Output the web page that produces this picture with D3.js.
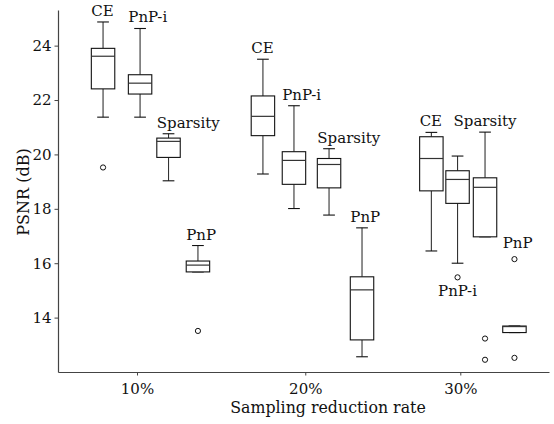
<!DOCTYPE html>
<html>
<head>
<meta charset="utf-8">
<script src="https://cdn.jsdelivr.net/npm/d3@7"></script>
<style>
  html, body { margin: 0; padding: 0; background: #fff; }
  svg { display: block; font-family: "DejaVu Serif", serif; }
</style>
</head>
<body>
<svg id="chart" width="554" height="424"></svg>
<script>
// categories
const rates = ["10%", "20%", "30%"];
const ratePos = [1, 2.041, 3];
const methods = ["CE", "PnP-i", "Sparsity", "PnP",
                 "CE", "PnP-i", "Sparsity", "PnP",
                 "CE", "PnP-i", "Sparsity", "PnP"];
// where each box sits along the x axis
const boxPos = [0.79, 1.019, 1.195, 1.377,
                1.779, 1.971, 2.188, 2.392,
                2.821, 2.983, 3.153, 3.335];

// box statistics (PSNR, dB)
const whiskerLow = [21.37, 21.37, 19.03, 15.68, 19.28, 18.01, 17.77, 12.56, 16.45, 16.00, 16.97, 13.45];
const q1         = [22.41, 22.22, 19.89, 15.68, 20.69, 18.90, 18.77, 13.18, 18.66, 18.20, 16.97, 13.45];
const median     = [23.61, 22.62, 20.48, 15.93, 21.40, 19.78, 19.63, 15.02, 19.85, 19.08, 18.79, 13.67];
const q3         = [23.90, 22.93, 20.60, 16.08, 22.15, 20.10, 19.85, 15.50, 20.65, 19.40, 19.14, 13.69];
const whiskerHigh= [24.87, 24.63, 20.76, 16.65, 23.50, 21.79, 20.21, 17.30, 20.81, 19.94, 20.82, 13.69];
const outliers   = [[19.52], [], [], [13.51],
                    [], [], [], [],
                    [], [15.48], [13.23, 12.45], [16.15, 12.52]];

// label placement: text anchor and side of the box
const labelAnchor = ["start", "start", "start", "start",
                     "start", "start", "start", "start",
                     "start", "middle", "middle", "start"];
const labelSide = ["top", "top", "top", "top",
                   "top", "top", "top", "top",
                   "top", "bottom", "top", "top"];

const yTicks = [14, 16, 18, 20, 22, 24];

const svg = d3.select("#chart");
const mLeft = 58, mRight = 549, mTop = 10, mBottom = 372;

const x = d3.scaleLinear()
  .domain([1 - (137 - mLeft) / 161.65, 1 + (mRight - 137) / 161.65])
  .range([mLeft, mRight]);
const y = d3.scaleLinear().domain([12, 25.31]).range([mBottom, mTop]);

const boxW = x(1.145) - x(1);

const boxes = methods.map((m, i) => ({
  name: m, pos: boxPos[i],
  lo: whiskerLow[i], q1: q1[i], med: median[i], q3: q3[i], hi: whiskerHigh[i],
  out: outliers[i], anchor: labelAnchor[i], side: labelSide[i]
}));

// axes
const yAxis = svg.append("g")
  .attr("transform", `translate(${mLeft},0)`)
  .call(d3.axisLeft(y).tickValues(yTicks).tickSize(3.5).tickSizeOuter(0).tickPadding(3));

const xAxis = svg.append("g")
  .attr("transform", `translate(0,${mBottom})`)
  .call(d3.axisBottom(x).tickValues(ratePos)
    .tickFormat((d, i) => rates[i]).tickSize(3.5).tickSizeOuter(0).tickPadding(8));

[yAxis, xAxis].forEach(g => {
  g.select(".domain").attr("stroke", "#444").attr("stroke-width", 1.2);
  g.selectAll(".tick line").attr("stroke", "#444");
  g.selectAll(".tick text")
    .attr("fill", "#111")
    .style("font-family", "DejaVu Serif, serif")
    .style("font-size", "15px");
});

// axis titles
svg.append("text")
  .attr("x", 328).attr("y", 413)
  .attr("text-anchor", "middle")
  .attr("fill", "#111")
  .style("font-size", "15.8px")
  .text("Sampling reduction rate");

svg.append("text")
  .attr("transform", "translate(29,192) rotate(-90)")
  .attr("text-anchor", "middle")
  .attr("fill", "#111")
  .style("font-size", "16px")
  .text("PSNR (dB)");

// boxes
const g = svg.append("g")
  .selectAll("g.box")
  .data(boxes)
  .join("g")
  .attr("class", "box");

// whiskers
g.append("line")
  .attr("x1", d => x(d.pos)).attr("x2", d => x(d.pos))
  .attr("y1", d => y(d.q3)).attr("y2", d => y(d.hi))
  .attr("stroke", "#333").attr("stroke-width", 1.1);
g.append("line")
  .attr("x1", d => x(d.pos)).attr("x2", d => x(d.pos))
  .attr("y1", d => y(d.q1)).attr("y2", d => y(d.lo))
  .attr("stroke", "#333").attr("stroke-width", 1.1);

// caps
[d => d.hi, d => d.lo].forEach(acc => {
  g.append("line")
    .attr("x1", d => x(d.pos) - boxW / 4).attr("x2", d => x(d.pos) + boxW / 4)
    .attr("y1", d => y(acc(d))).attr("y2", d => y(acc(d)))
    .attr("stroke", "#111").attr("stroke-width", 1.1);
});

g.append("rect")
  .attr("x", d => x(d.pos) - boxW / 2)
  .attr("width", boxW)
  .attr("y", d => y(d.q3))
  .attr("height", d => Math.max(y(d.q1) - y(d.q3), 1))
  .attr("fill", "#fff")
  .attr("stroke", "#111").attr("stroke-width", 1.1);

g.append("line")
  .attr("x1", d => x(d.pos) - boxW / 2).attr("x2", d => x(d.pos) + boxW / 2)
  .attr("y1", d => y(d.med)).attr("y2", d => y(d.med))
  .attr("stroke", "#333").attr("stroke-width", 1.2);

// outliers
g.selectAll("circle")
  .data(d => d.out.map(v => ({ pos: d.pos, v })))
  .join("circle")
  .attr("cx", d => x(d.pos)).attr("cy", d => y(d.v))
  .attr("r", 2.6)
  .attr("fill", "none").attr("stroke", "#111").attr("stroke-width", 1);

// method labels: above the highest point, or below the lowest
g.append("text")
  .attr("text-anchor", d => d.anchor)
  .attr("x", d => d.anchor === "start" ? x(d.pos) - boxW / 2 : x(d.pos))
  .attr("y", d => {
    const vals = [d.lo, d.hi, ...d.out];
    const gap = d.out.some(v => v > d.hi) ? 11 : 6;
    return d.side === "top" ? y(d3.max(vals)) - gap : y(d3.min(vals)) + 19;
  })
  .attr("fill", "#111")
  .style("font-size", "15px")
  .text(d => d.name);
</script>
</body>
</html>
